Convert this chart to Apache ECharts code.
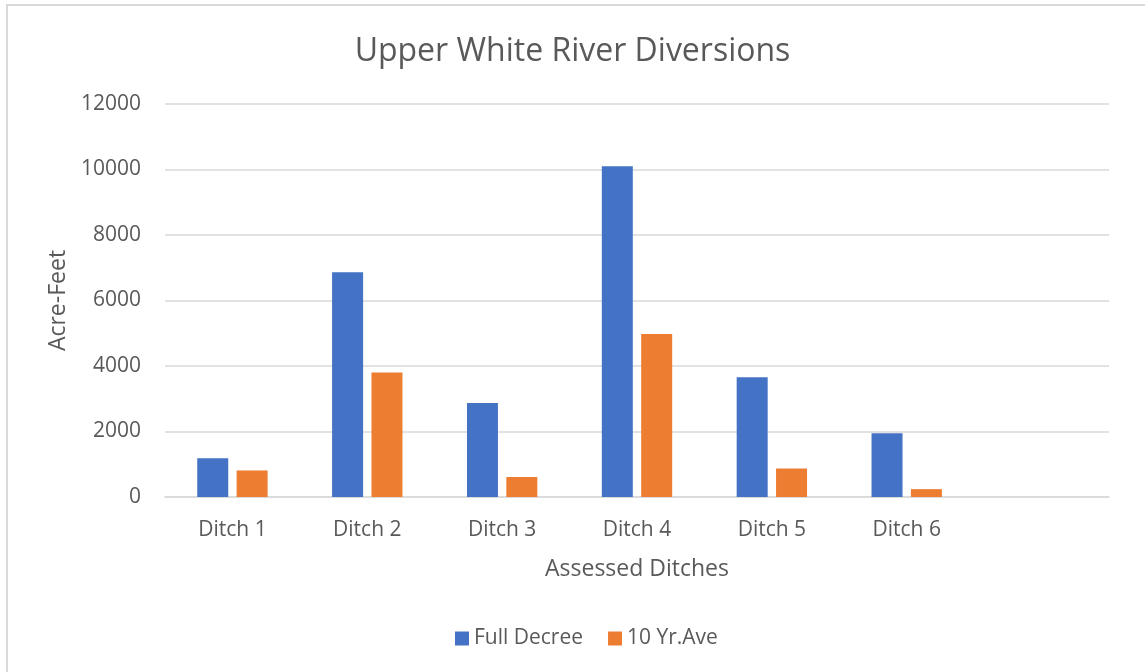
<!DOCTYPE html>
<html>
<head>
<meta charset="utf-8">
<script src="https://cdn.jsdelivr.net/npm/echarts@6/dist/echarts.min.js"></script>
<style>
html,body{margin:0;padding:0;background:#fff;}
#frame{position:absolute;left:6px;top:4px;width:1145px;height:680px;border-left:2px solid #d9d9d9;border-top:2px solid #d9d9d9;}
#chart{position:absolute;left:0;top:0;width:1145px;height:672px;}
</style>
</head>
<body>
<div id="frame"></div>
<div id="chart"></div>
<script>
const categories = ['Ditch 1','Ditch 2','Ditch 3','Ditch 4','Ditch 5','Ditch 6',''];
const fullDecree = [1180, 6860, 2870, 10100, 3660, 1950, null];
const tenYrAve = [810, 3800, 610, 4980, 870, 240, null];
const yTicks = [0, 2000, 4000, 6000, 8000, 10000, 12000];

const font = '"Open Sans", "Noto Sans", sans-serif';
const txt = '#595959';
const chart = echarts.init(document.getElementById('chart'), null, {renderer:'canvas'});
chart.setOption({
  animation:false,
  backgroundColor:'transparent',
  title:{text:'Upper White River Diversions',left:'center',top:31,
    textStyle:{fontFamily:font,fontSize:32,fontWeight:'normal',color:txt}},
  legend:{bottom:18,left:450,itemWidth:14,itemHeight:14,itemGap:25,icon:'rect',
    textStyle:{fontFamily:font,fontSize:21,color:txt},
    data:['Full Decree','10 Yr.Ave']},
  grid:{left:165,right:36,top:104,bottom:175,containLabel:false},
  xAxis:{type:'category',data:categories,
    name:'Assessed Ditches',nameLocation:'middle',nameGap:61,
    nameTextStyle:{fontFamily:font,fontSize:23,color:txt},
    axisLine:{lineStyle:{color:'#d9d9d9',width:1.5}},axisTick:{show:false},
    axisLabel:{fontFamily:font,fontSize:21,color:txt,margin:23}},
  yAxis:{type:'value',min:yTicks[0],max:yTicks[yTicks.length-1],interval:2000,
    name:'Acre-Feet',nameLocation:'middle',nameGap:93,
    nameTextStyle:{fontFamily:font,fontSize:23,color:txt},
    axisLine:{show:false},axisTick:{show:false},
    axisLabel:{fontFamily:font,fontSize:21,color:txt,margin:24,formatter:function(v){return String(v);}},
    splitLine:{lineStyle:{color:'#d9d9d9',width:1.5}}},
  series:[
    {name:'Full Decree',type:'bar',data:fullDecree,barWidth:31,barGap:'27%',
      itemStyle:{color:'#4472c4'}},
    {name:'10 Yr.Ave',type:'bar',data:tenYrAve,barWidth:31,
      itemStyle:{color:'#ed7d31'}}
  ]
});
</script>
</body>
</html>
